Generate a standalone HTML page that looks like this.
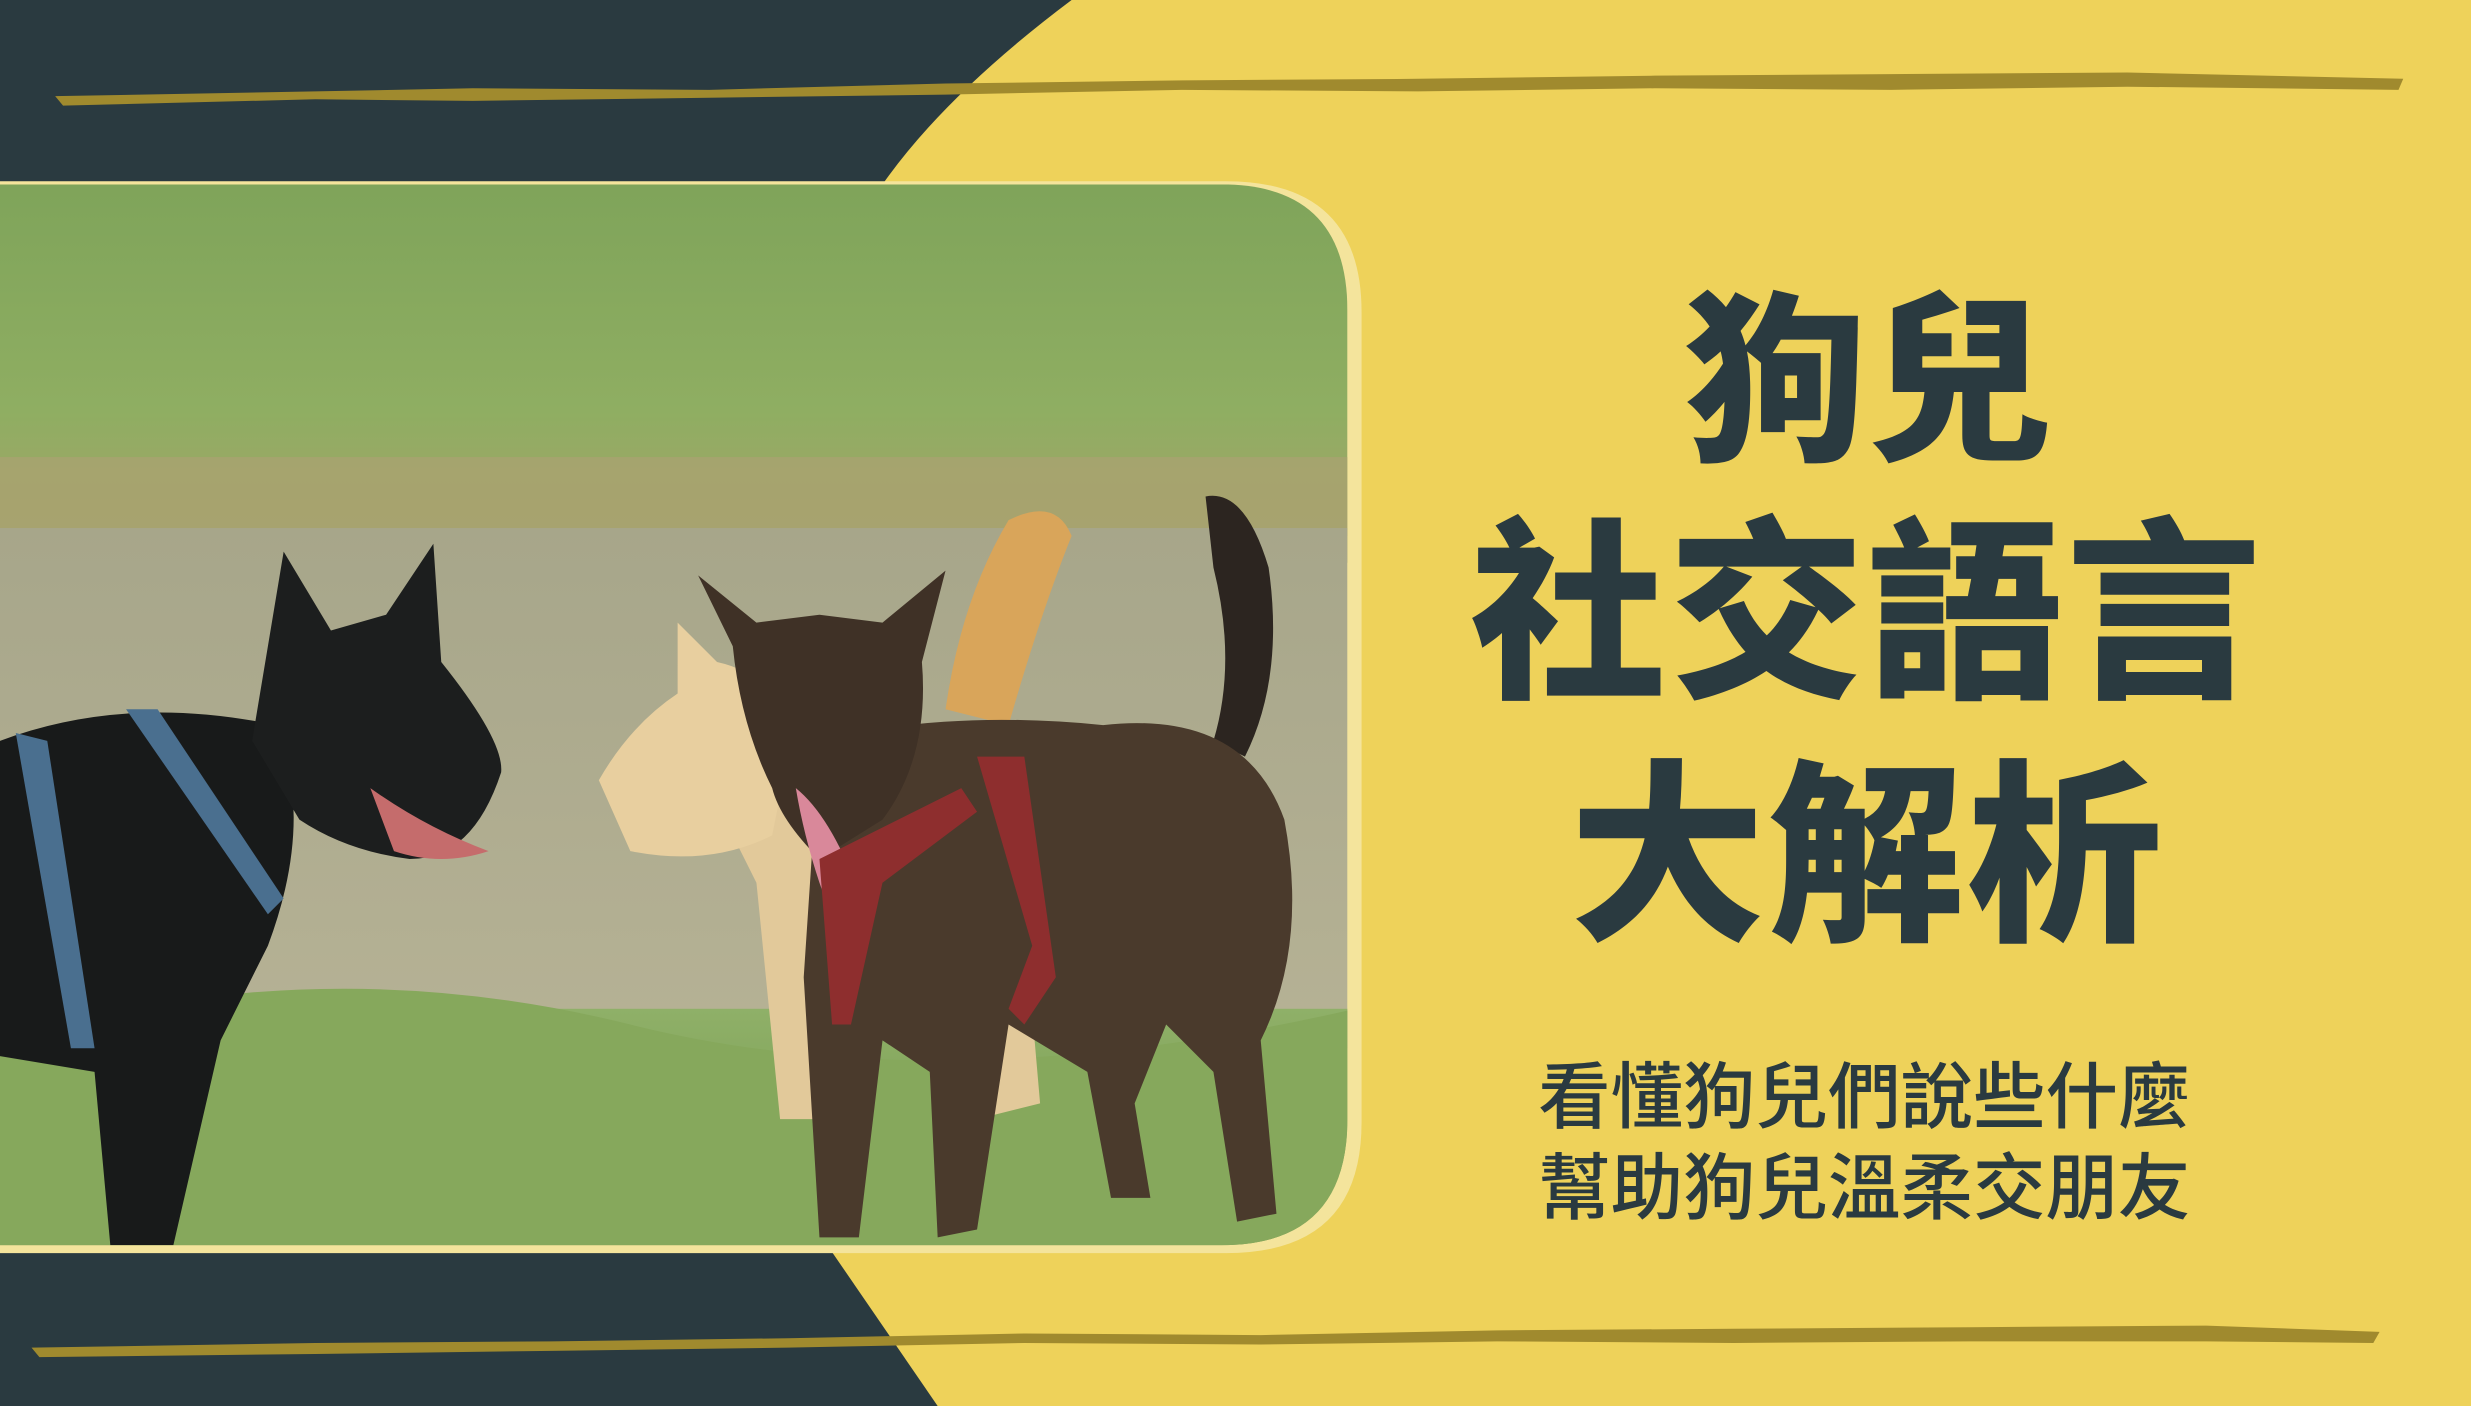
<!DOCTYPE html>
<html><head><meta charset="utf-8">
<style>
html,body{margin:0;padding:0;background:#eed25a;}
svg{display:block;}
text{font-family:"Liberation Sans","Noto Sans CJK TC",sans-serif;}
</style></head>
<body>
<svg width="2471" height="1406" viewBox="0 0 1568 892" preserveAspectRatio="none" xmlns="http://www.w3.org/2000/svg">
<defs>
  <linearGradient id="grassTop" x1="0" y1="0" x2="0" y2="1">
    <stop offset="0" stop-color="#7fa45a"/><stop offset="0.6" stop-color="#8fae62"/><stop offset="1" stop-color="#a8a06a"/>
  </linearGradient>
  <linearGradient id="water" x1="0" y1="0" x2="0" y2="1">
    <stop offset="0" stop-color="#a7a68a"/><stop offset="1" stop-color="#b6b295"/>
  </linearGradient>
  <linearGradient id="grassBot" x1="0" y1="0" x2="0" y2="1">
    <stop offset="0" stop-color="#8fb068"/><stop offset="1" stop-color="#6f9448"/>
  </linearGradient>
  <clipPath id="photoClip">
    <path d="M0 117 H775 Q855 117 855 197 V710 Q855 790 775 790 H0 Z"/>
  </clipPath>
</defs>
<rect x="0" y="0" width="1568" height="892" fill="#eed25a"/>
<path d="M0 0 H680 Q600 60 560 117 H0 Z" fill="#2a3a40"/>
<path d="M0 790 H525 L595 892 H0 Z" fill="#2a3a40"/>
<path d="M0 115 H778 Q864 115 864 198 V712 Q864 795 778 795 H0 Z" fill="#f4e49c"/>
<g clip-path="url(#photoClip)">
  <rect x="0" y="117" width="860" height="240" fill="url(#grassTop)"/>
  <rect x="0" y="290" width="860" height="50" fill="#a9a370" opacity="0.8"/>
  <rect x="0" y="335" width="860" height="330" fill="url(#water)"/>
  <rect x="0" y="640" width="860" height="160" fill="url(#grassBot)"/>
  <path d="M0 660 Q200 600 400 650 T860 640 V800 H0Z" fill="#86a85c"/>
  <path d="M600 450 Q610 380 640 330 Q670 315 680 340 Q660 390 640 460Z" fill="#d9a55a"/>
  <path d="M440 480 Q470 430 520 470 L640 470 L660 700 L620 710 L600 600 L540 600 L520 710 L495 710 L480 560 Z" fill="#e2c99a"/>
  <path d="M380 495 Q400 460 430 440 L430 395 L455 420 Q500 430 500 480 L490 530 Q450 550 400 540 Z" fill="#e8cf9f"/>
  <path d="M0 470 Q80 440 175 460 Q200 520 170 600 L140 660 L110 790 L70 790 L60 680 L0 670 Z" fill="#181a1a"/>
  <path d="M160 470 L180 350 L210 400 L245 390 L275 345 L280 420 Q320 470 318 490 Q300 545 260 545 Q220 540 190 520 Z" fill="#1c1e1e"/>
  <path d="M235 500 Q270 525 310 540 Q280 550 250 540Z" fill="#c56c6c"/>
  <path d="M10 465 L30 470 L60 665 L45 665 Z" fill="#4a6f8f"/>
  <path d="M80 450 L100 450 L180 570 L170 580 Z" fill="#4a6f8f"/>
  <path d="M765 315 Q790 310 805 360 Q815 430 790 480 L770 470 Q785 420 770 360Z" fill="#2c2520"/>
  <path d="M520 470 Q600 450 700 460 Q790 450 815 520 Q830 600 800 660 L810 770 L785 775 L770 680 L740 650 L720 700 L730 760 L705 760 L690 680 L640 650 L620 780 L595 785 L590 680 L560 660 L545 785 L520 785 L510 620 Z" fill="#4a3a2c"/>
  <path d="M443 365 L480 395 L520 390 L560 395 L600 362 L585 420 Q590 480 560 520 L520 545 Q495 520 490 500 Q470 460 465 410 Z" fill="#3f3126"/>
  <path d="M505 500 Q530 520 550 580 Q530 590 520 560 Q510 530 505 500Z" fill="#d9889a"/>
  <path d="M620 480 L650 480 L670 620 L650 650 L640 640 L655 600 Z" fill="#8e2e2e"/>
  <path d="M520 545 L610 500 L620 515 L560 560 L540 650 L528 650 Z" fill="#8e2e2e"/>
</g>
<path d="M35 61 L200 58 L300 56 L450 57 L600 53 L750 51 L900 50 L1050 48 L1200 47 L1350 46 L1525 50 L1522 57 L1350 55 L1200 57 L1050 56 L900 58 L750 57 L600 60 L450 62 L300 64 L200 63 L40 67 Z" fill="#a08a2e"/>
<path d="M20 855 L200 852 L350 851 L500 849 L650 846 L800 847 L950 844 L1100 843 L1250 842 L1400 841 L1510 845 L1506 852 L1400 851 L1250 851 L1100 852 L950 851 L800 853 L650 852 L500 855 L350 857 L200 859 L25 861 Z" fill="#a08a2e"/>
<g fill="#2a3a40" font-weight="900" text-anchor="middle">
  <text x="1185" y="283" font-size="116">狗兒</text>
  <text x="1185" y="433" font-size="124" letter-spacing="2">社交語言</text>
  <text x="1185" y="587" font-size="124" letter-spacing="2">大解析</text>
</g>
<g fill="#2a3a40" font-weight="500" text-anchor="middle" font-size="46">
  <text x="1183" y="712">看懂狗兒們說些什麼</text>
  <text x="1183" y="770">幫助狗兒溫柔交朋友</text>
</g>
</svg>
</body></html>
